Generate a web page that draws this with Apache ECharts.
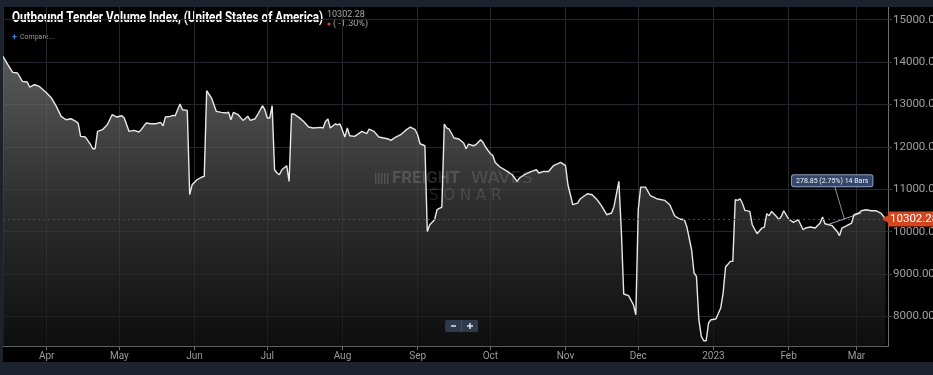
<!DOCTYPE html>
<html><head><meta charset="utf-8">
<script src="https://cdn.jsdelivr.net/npm/echarts@6/dist/echarts.min.js"></script>
<style>
html,body{margin:0;padding:0;background:#1c232e;width:933px;height:375px;overflow:hidden}
#c{position:absolute;left:3px;top:7px;width:930px;height:355px;background:#000}
</style></head><body><div id="c"></div>
<script>
const dates = [
'2022-03-14','2022-03-16','2022-03-18','2022-03-20','2022-03-22','2022-03-24','2022-03-25','2022-03-27','2022-03-29',
'2022-04-01','2022-04-03','2022-04-05','2022-04-07','2022-04-09','2022-04-11','2022-04-13','2022-04-14','2022-04-15','2022-04-17','2022-04-19','2022-04-20','2022-04-21','2022-04-22','2022-04-24','2022-04-26','2022-04-28','2022-04-30',
'2022-05-02','2022-05-03','2022-05-05','2022-05-07','2022-05-09','2022-05-10','2022-05-12','2022-05-14','2022-05-16','2022-05-18','2022-05-19','2022-05-20','2022-05-22','2022-05-23','2022-05-24','2022-05-26','2022-05-27','2022-05-29','2022-05-30','2022-05-31',
'2022-06-02','2022-06-04','2022-06-05','2022-06-06','2022-06-08','2022-06-10','2022-06-12','2022-06-14','2022-06-15','2022-06-16','2022-06-17','2022-06-19','2022-06-21','2022-06-23','2022-06-24','2022-06-26','2022-06-27','2022-06-29','2022-06-30',
'2022-07-01','2022-07-02','2022-07-03','2022-07-04','2022-07-05','2022-07-06','2022-07-07','2022-07-09','2022-07-10','2022-07-11','2022-07-12','2022-07-14','2022-07-16','2022-07-18','2022-07-20','2022-07-23','2022-07-24','2022-07-25','2022-07-26','2022-07-27','2022-07-29','2022-07-30','2022-07-31',
'2022-08-02','2022-08-03','2022-08-04','2022-08-06','2022-08-08','2022-08-09','2022-08-11','2022-08-12','2022-08-14','2022-08-16','2022-08-18','2022-08-20','2022-08-21','2022-08-23','2022-08-25','2022-08-27','2022-08-29','2022-08-31',
'2022-09-01','2022-09-02','2022-09-04','2022-09-05','2022-09-06','2022-09-08','2022-09-09','2022-09-11','2022-09-12','2022-09-13','2022-09-14','2022-09-16','2022-09-18','2022-09-20','2022-09-21','2022-09-22','2022-09-24','2022-09-25','2022-09-27','2022-09-28','2022-09-29',
'2022-10-01','2022-10-02','2022-10-03','2022-10-05','2022-10-08','2022-10-10','2022-10-12','2022-10-13','2022-10-15','2022-10-18','2022-10-20','2022-10-21','2022-10-23','2022-10-25','2022-10-27','2022-10-30',
'2022-11-01','2022-11-02','2022-11-04','2022-11-06','2022-11-07','2022-11-10','2022-11-12','2022-11-14','2022-11-16','2022-11-18','2022-11-20','2022-11-21','2022-11-23','2022-11-24','2022-11-25','2022-11-27','2022-11-29','2022-11-30',
'2022-12-01','2022-12-02','2022-12-04','2022-12-06','2022-12-09','2022-12-12','2022-12-14','2022-12-16','2022-12-18','2022-12-20','2022-12-21','2022-12-23','2022-12-24','2022-12-25','2022-12-26','2022-12-27','2022-12-28','2022-12-29','2022-12-30','2022-12-31',
'2023-01-02','2023-01-04','2023-01-05','2023-01-06','2023-01-08','2023-01-09','2023-01-10','2023-01-11','2023-01-12','2023-01-13','2023-01-14','2023-01-16','2023-01-17','2023-01-19','2023-01-21','2023-01-22','2023-01-23','2023-01-24','2023-01-25','2023-01-27','2023-01-28','2023-01-29','2023-01-30',
'2023-02-01','2023-02-03','2023-02-05','2023-02-07','2023-02-08','2023-02-10','2023-02-12','2023-02-14','2023-02-15','2023-02-16','2023-02-19','2023-02-21','2023-02-22','2023-02-23','2023-02-25','2023-02-27','2023-02-28',
'2023-03-02','2023-03-03','2023-03-05','2023-03-07','2023-03-09','2023-03-11','2023-03-13'
];
const values = [
14134,13939,13757,13743,13545,13530,13412,13467,13427,
13271,13153,12955,12720,12641,12665,12601,12563,12248,12233,12068,11958,11958,12366,12406,12524,12759,12705,
12736,12681,12366,12389,12351,12406,12563,12547,12547,12578,12500,12705,12720,12743,12736,13012,12877,12861,10873,11108,
11226,11290,11304,13325,13153,12837,12814,12799,12823,12641,12814,12759,12625,12720,12625,12665,12759,12972,12877,
12681,12681,12972,11462,11384,11344,11462,11557,11187,12776,12776,12696,12601,12469,12446,12460,12446,12601,12658,12446,12540,12524,12540,
12233,12446,12264,12248,12327,12366,12311,12422,12366,12233,12210,12186,12153,12233,12288,12389,12469,12406,
12288,12075,12028,10007,10165,10283,10519,10582,12540,12446,12422,12210,12186,12092,11958,12068,12028,12052,12170,12106,11998,
11840,11800,11635,11526,11422,11344,11187,11266,11344,11422,11462,11384,11422,11422,11557,11635,
11557,11108,10637,10676,10771,10896,10873,10755,10597,10401,10441,10597,11187,10047,8531,8491,8278,8042,
10519,11052,11052,10849,10771,10738,10637,10377,10300,10283,10125,9575,9026,8946,7925,7531,7429,7429,7847,7925,
7941,8200,8554,9167,9300,9300,10755,10738,10778,10660,10503,10479,10165,9953,10087,10110,10425,10377,10479,10361,10283,10361,10495,
10300,10220,10283,10047,10087,10110,10087,10205,10346,10189,10142,10007,9906,10087,10142,10205,10401,
10441,10495,10519,10495,10495,10441,10302.28
];
const yTicks = [8000, 9000, 10000, 11000, 12000, 13000, 14000, 15000];
const yRange = [7300, 15300];
const xRange = ['2022-03-14', '2023-03-14'];
const lastValue = 10302.28;
const lastChange = '( -1.30%)';
const measureLine = [['2023-02-17', 10163], ['2023-03-03', 10442]];
const measureLink = [['2023-02-24', 10302], ['2023-02-20', 11070]];
const measureBox = ['2023-02-19', 11200];
const measureText = '278.85 (2.75%) 14 Bars';
const titleText = 'Outbound Tender Volume Index, (United States of America)';
const monthNames = ['Jan','Feb','Mar','Apr','May','Jun','Jul','Aug','Sep','Oct','Nov','Dec'];

const chart = echarts.init(document.getElementById('c'), null, {renderer: 'canvas'});
const seriesData = dates.map((d, i) => [d, values[i]]);
const WM = 'rgba(255,255,255,0.15)';

chart.setOption({
  backgroundColor: '#000',
  animation: false,
  grid: {left: 0, right: 45, top: 0, bottom: 15.8, containLabel: false, outerBoundsMode: 'none'},
  xAxis: {
    type: 'time',
    min: xRange[0], max: xRange[1],
    splitNumber: 12,
    minInterval: 28 * 86400000,
    maxInterval: 31 * 86400000,
    axisLine: {show: true, lineStyle: {color: '#6e6e6e', width: 1}},
    axisTick: {show: true, length: 4, lineStyle: {color: '#6e6e6e'}},
    splitLine: {show: true, lineStyle: {color: '#24282e', width: 1}},
    axisLabel: {
      color: '#9a9a9a', fontSize: 10, fontFamily: 'Roboto, sans-serif', margin: 5,
      formatter: function (v) {
        const d = new Date(v);
        return d.getMonth() === 0 ? String(d.getFullYear()) : monthNames[d.getMonth()];
      }
    }
  },
  yAxis: {
    type: 'value',
    position: 'right',
    min: yRange[0], max: yRange[1],
    axisLine: {show: true, lineStyle: {color: '#6e6e6e', width: 1}},
    axisTick: {show: true, length: 4, customValues: yTicks, lineStyle: {color: '#3a3f46'}},
    splitLine: {show: true, lineStyle: {color: '#24282e', width: 1}},
    axisLabel: {
      customValues: yTicks, color: '#a0a0a0', fontSize: 11.5, fontFamily: 'Roboto, sans-serif', margin: 5,
      formatter: v => v.toFixed(2)
    }
  },
  graphic: [
    {type: 'text', x: 9, y: 4, scaleX: 0.78, style: {text: titleText, fill: '#fff', font: 'bold 15px Roboto, sans-serif'}},
    {type: 'text', x: 324, y: 3, style: {text: lastValue.toFixed(2), fill: '#a8a8a8', font: '9px Roboto, sans-serif'}},
    {type: 'circle', shape: {cx: 326, cy: 17, r: 1.6}, style: {fill: '#e0392b'}},
    {type: 'text', x: 330, y: 12, style: {text: lastChange, fill: '#a8a8a8', font: '9px Roboto, sans-serif'}},
    {type: 'text', x: 9, y: 26, style: {text: '+', fill: '#3d7bd8', font: 'bold 9px Roboto, sans-serif'}},
    {type: 'text', x: 17, y: 27, style: {text: 'Compare...', fill: '#9a9a9a', font: '7px Roboto, sans-serif'}},
    // watermark
    {type: 'group', x: 372, y: 164, z: 100, silent: true, children: [
      {type: 'rect', z: 100, shape: {x: 0, y: 2, width: 1.5, height: 11}, style: {fill: WM}},
      {type: 'rect', z: 100, shape: {x: 3, y: 2, width: 1.5, height: 11}, style: {fill: WM}},
      {type: 'rect', z: 100, shape: {x: 6, y: 2, width: 1.5, height: 11}, style: {fill: WM}},
      {type: 'rect', z: 100, shape: {x: 9, y: 2, width: 1.5, height: 11}, style: {fill: WM}},
      {type: 'rect', z: 100, shape: {x: 12, y: 2, width: 1.5, height: 11}, style: {fill: WM}},
      {type: 'text', z: 100, x: 17, y: 0, scaleX: 1.05, style: {text: 'FREIGHT', fill: WM, font: 'bold 16px Roboto, sans-serif'}},
      {type: 'text', z: 100, x: 96, y: 0, scaleX: 1.1, style: {text: 'WAVES', fill: 'rgba(255,255,255,0.13)', font: '16px "DejaVu Sans", sans-serif'}},
      {type: 'text', z: 100, x: 54, y: 18, style: {text: 'S O N A R', fill: 'rgba(255,255,255,0.12)', font: '15px "DejaVu Sans", sans-serif'}}
    ]},
    // zoom buttons
    {type: 'group', x: 442, y: 313, z: 100, children: [
      {type: 'rect', z: 100, shape: {x: 0, y: 0, width: 33, height: 12, r: 2}, style: {fill: '#2f3b4c'}},
      {type: 'line', z: 100, shape: {x1: 16.5, y1: 1, x2: 16.5, y2: 11}, style: {stroke: '#47556a'}},
      {type: 'line', z: 100, shape: {x1: 6, y1: 6, x2: 11, y2: 6}, style: {stroke: '#dfe5ee', lineWidth: 1.5}},
      {type: 'line', z: 100, shape: {x1: 22, y1: 6, x2: 28, y2: 6}, style: {stroke: '#dfe5ee', lineWidth: 1.5}},
      {type: 'line', z: 100, shape: {x1: 25, y1: 3, x2: 25, y2: 9}, style: {stroke: '#dfe5ee', lineWidth: 1.5}}
    ]}
  ],
  series: [{
    type: 'line',
    data: seriesData,
    showSymbol: false,
    smooth: false,
    lineStyle: {color: '#e8e8e8', width: 1.4},
    areaStyle: {
      color: new echarts.graphic.LinearGradient(0, 0, 0, 1, [
        {offset: 0, color: 'rgba(128,128,128,1)'},
        {offset: 0.5, color: 'rgba(66,66,66,1)'},
        {offset: 1, color: 'rgba(20,20,20,1)'}
      ])
    },
    markLine: {
      silent: true,
      symbol: ['none', 'none'],
      animation: false,
      data: [
        {yAxis: lastValue,
         lineStyle: {type: [2, 3], color: '#8a3222', width: 1},
         label: {show: true, position: 'end', distance: 0, formatter: lastValue.toFixed(2),
                 color: '#fff', backgroundColor: '#d5461f', padding: [2, 2, 1, 2],
                 fontSize: 11.5, fontFamily: 'Roboto, sans-serif'}},
        [{coord: measureLine[0]}, {coord: measureLine[1],
          lineStyle: {type: 'solid', color: '#cfd6e0', width: 0.8}, label: {show: false}}],
        [{coord: measureLink[0]}, {coord: measureLink[1],
          lineStyle: {type: 'solid', color: '#aab4c4', width: 0.8}, label: {show: false}}]
      ]
    },
    markPoint: {
      silent: true,
      animation: false,
      data: [
        {coord: [xRange[1], lastValue], symbol: 'triangle', symbolSize: [10, 8], symbolRotate: 90,
         symbolOffset: [-2, 0], itemStyle: {color: '#d5461f'}, label: {show: false}},
        {coord: measureBox, symbol: 'rect', symbolSize: [1, 1], itemStyle: {color: 'rgba(0,0,0,0)'},
         label: {show: true, position: 'inside', formatter: measureText, color: '#eef2f8',
                 fontSize: 7, fontFamily: 'Roboto, sans-serif', backgroundColor: '#34466a',
                 borderColor: '#8fa2c4', borderWidth: 1, borderRadius: 2, padding: [2, 4]}}
      ]
    }
  }]
});
</script></body></html>
